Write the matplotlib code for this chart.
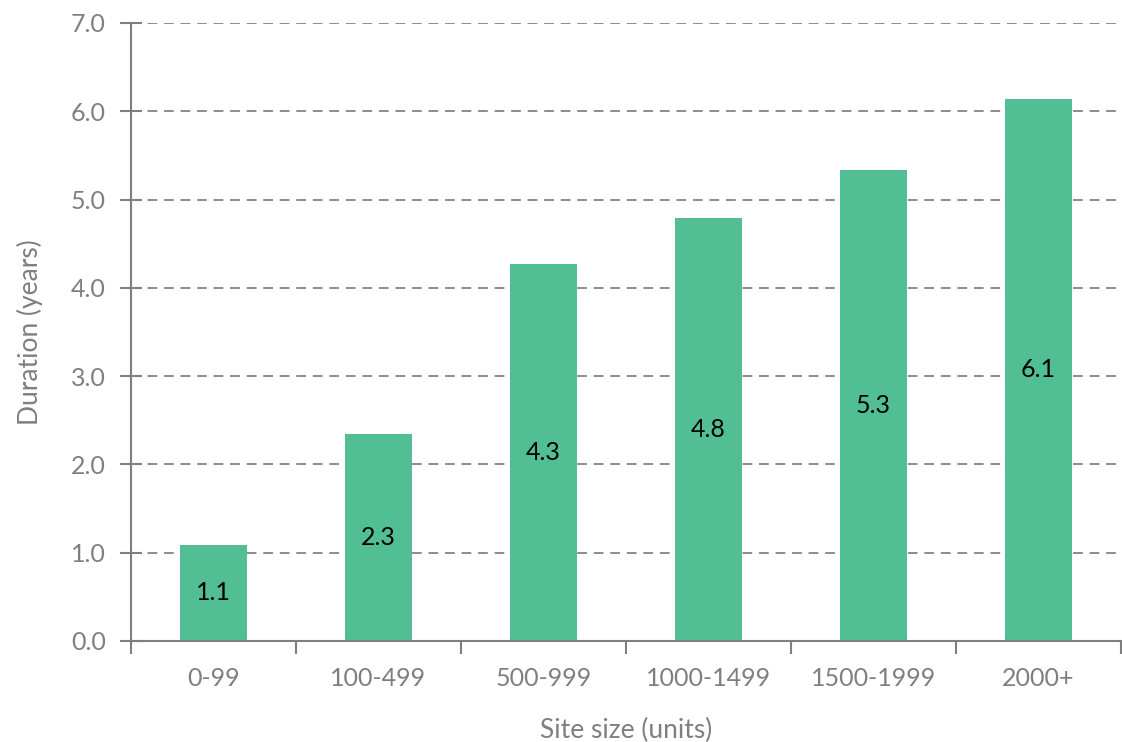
import numpy as np
import matplotlib
matplotlib.use("Agg")
import matplotlib.pyplot as plt

# dati
categorie = ['0-99', '100-499', '500-999', '1000-1499', '1500-1999', '2000+']
durata = [1.09, 2.34, 4.27, 4.79, 5.34, 6.14]
yticks = [0.0, 1.0, 2.0, 3.0, 4.0, 5.0, 6.0, 7.0]

plt.rcParams['font.family'] = ['Lato', 'DejaVu Sans']
grigio = '#7f7f7f'

fig = plt.figure(figsize=(11.22, 7.42), dpi=100)
ax = fig.add_axes([131/1122, 101/742, 990/1122, 618/742])

x = np.arange(len(categorie))
barre = ax.bar(x, durata, width=0.41, color='#52be93', zorder=3)
for b, v in zip(barre, durata):
    ax.text(b.get_x() + b.get_width()/2, v/2, '%.1f' % v,
            ha='center', va='center', fontsize=18, color='black', zorder=4)

ax.set_xlim(-0.5, len(categorie) - 0.5)
ax.set_ylim(0, 7)
ax.set_yticks(yticks)
ax.set_yticklabels(['%.1f' % t for t in yticks])
ax.set_xticks(x)
ax.set_xticklabels(categorie)
ax.set_xticks(np.arange(len(categorie) + 1) - 0.5, minor=True)
ax.tick_params(axis='x', which='major', length=0, pad=19, labelsize=18, labelcolor=grigio)
ax.tick_params(axis='x', which='minor', length=9, width=1.5, color=grigio, direction='out')
ax.tick_params(axis='y', length=16, width=1.5, color=grigio, direction='inout',
               labelsize=18, labelcolor=grigio, pad=10)

ax.grid(axis='y', linestyle=(0, (5, 3.5)), color='#8c8c8c', linewidth=1.4, zorder=0)
for s in ['top', 'right']:
    ax.spines[s].set_visible(False)
for s in ['left', 'bottom']:
    ax.spines[s].set_color(grigio)
    ax.spines[s].set_linewidth(1.5)
ax.spines['bottom'].set_zorder(5)

ax.set_ylabel('Duration (years)', fontsize=19, color=grigio, labelpad=20)
ax.set_xlabel('Site size (units)', fontsize=19, color=grigio, labelpad=20)

plt.savefig('out.png', dpi=100)
